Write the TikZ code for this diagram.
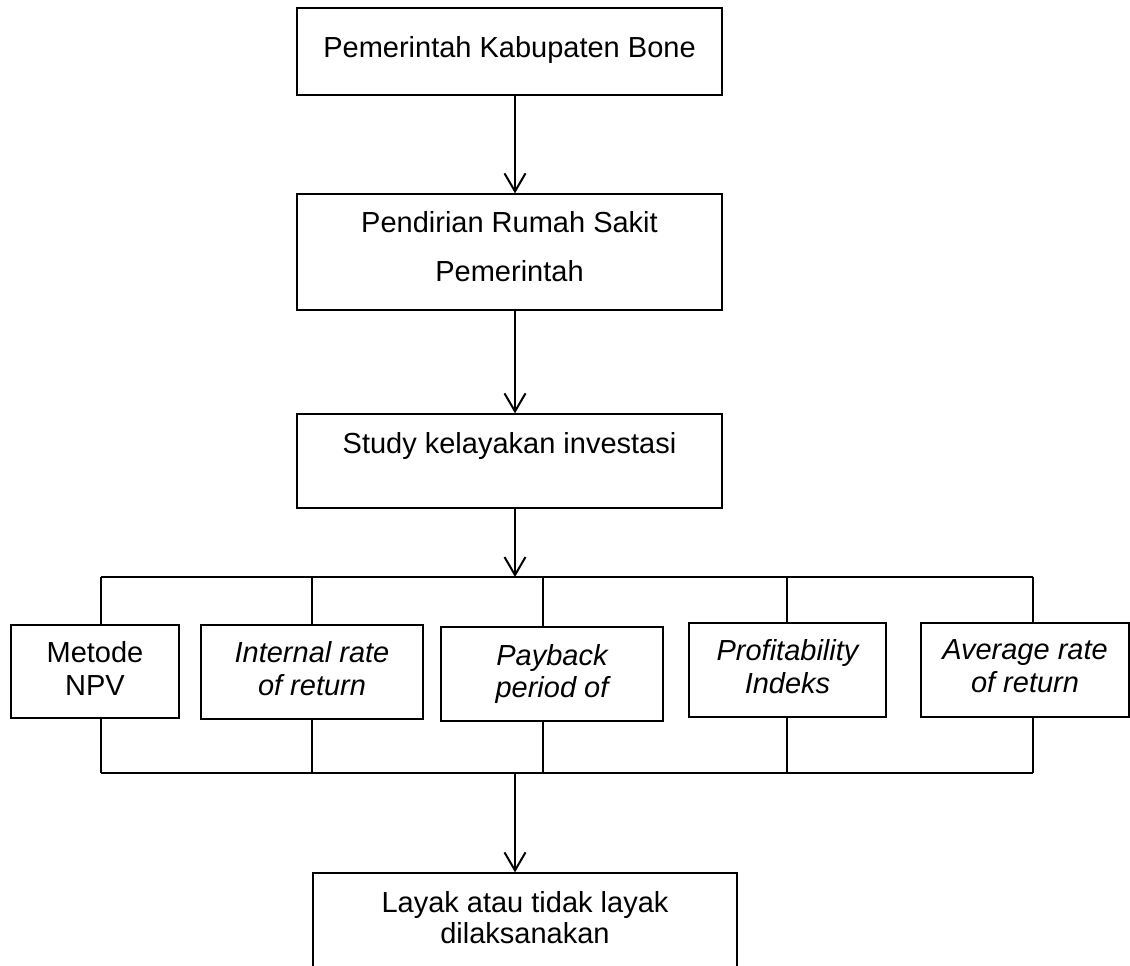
\documentclass[tikz,border=0pt]{standalone}
\usepackage{fontspec}
\setmainfont{Liberation Sans}
\usetikzlibrary{arrows.meta}
\begin{document}
\begin{tikzpicture}[x=0.75pt,y=-0.75pt,
  box/.style 2 args={draw=black, line width=1pt, inner sep=0pt, minimum width=#1*0.75pt, minimum height=#2*0.75pt},
  txt/.style={anchor=base, inner sep=0pt, font=\fontsize{21.75pt}{25pt}\selectfont},
  itx/.style={anchor=base, inner sep=0pt, font=\fontsize{21.75pt}{25pt}\selectfont\itshape},
  arr/.style={line width=1.5pt, -{Straight Barb[length=13.5pt, width=15.75pt]}},
  bus/.style={line width=0.8pt}]
\clip (0,0) rectangle (1130,965);
\fill[white] (0,0) rectangle (1130,965);
% boxes
\node[box={425}{87}]  (b1) at (509.5,51.5) {};
\node[box={425}{116}] (b2) at (509.5,252) {};
\node[box={425}{94}]  (b3) at (509.5,461) {};
\node[box={168}{93}]  (m1) at (95,671.5) {};
\node[box={222}{94}]  (m2) at (312,672) {};
\node[box={222}{94}]  (m3) at (552,674) {};
\node[box={197}{94}]  (m4) at (787.5,670) {};
\node[box={208}{94}]  (m5) at (1025,670) {};
\node[box={424}{134}] (b4) at (525,940) {};
% texts
\node[txt] (t1)  at (509.5,57)  {Pemerintah Kabupaten Bone};
\node[txt] (t2a) at (509.5,232) {Pendirian Rumah Sakit};
\node[txt] (t2b) at (509.5,281) {Pemerintah};
\node[txt] (t3)  at (509.5,453) {Study kelayakan investasi};
\node[txt] (t4a) at (95,662)  {Metode};
\node[txt] (t4b) at (95,695)  {NPV};
\node[itx] (t5a) at (312,662) {Internal rate};
\node[itx] (t5b) at (312,695) {of return};
\node[itx] (t6a) at (552,665) {Payback};
\node[itx] (t6b) at (552,697) {period of};
\node[itx] (t7a) at (787.5,660) {Profitability};
\node[itx] (t7b) at (787.5,693) {Indeks};
\node[itx] (t8a) at (1025,659) {Average rate};
\node[itx] (t8b) at (1025,692) {of return};
\node[txt] (t9a) at (525,912) {Layak atau tidak layak};
\node[txt] (t9b) at (525,943) {dilaksanakan};
% helper coordinates
\coordinate (ax) at (515,0);
\coordinate (tb) at (0,577);
\coordinate (bb) at (0,773);
\coordinate (d1) at (101,0);
\coordinate (d2) at (312,0);
\coordinate (d3) at (543,0);
\coordinate (d4) at (787,0);
\coordinate (d5) at (1033,0);
% connectors
\draw[arr] (b1.south -| ax) -- (b2.north -| ax);
\draw[arr] (b2.south -| ax) -- (b3.north -| ax);
\draw[arr] (b3.south -| ax) -- (ax |- tb);
\draw[bus] (d1 |- tb) -- (d5 |- tb);
\draw[bus] (d1 |- bb) -- (d5 |- bb);
\foreach \i/\m in {1/m1,2/m2,3/m3,4/m4,5/m5}{
  \draw[bus] (d\i |- tb) -- (d\i |- \m.north);
  \draw[bus] (d\i |- \m.south) -- (d\i |- bb);
}
\draw[arr] (ax |- bb) -- (b4.north -| ax);
\end{tikzpicture}
\end{document}
